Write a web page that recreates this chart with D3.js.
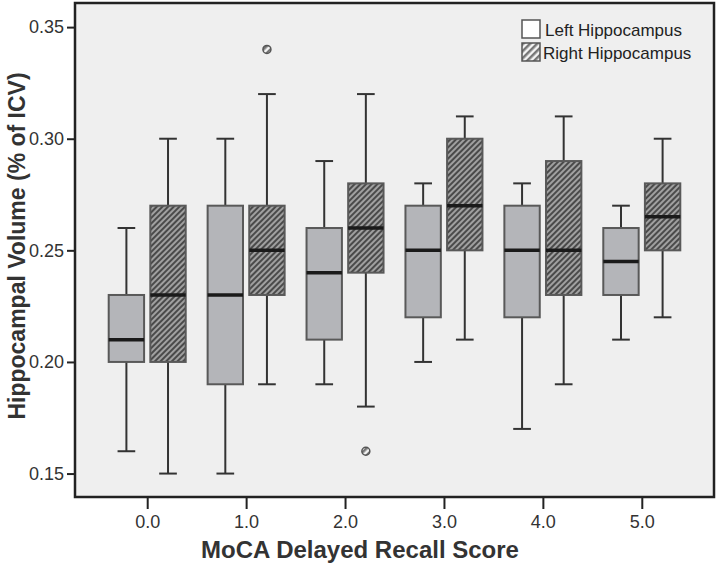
<!DOCTYPE html>
<html>
<head>
<meta charset="utf-8">
<script src="https://cdn.jsdelivr.net/npm/d3@7/dist/d3.min.js"></script>
<style>
  html, body { margin: 0; padding: 0; background: #ffffff; }
  svg { display: block; }
  text { font-family: "Liberation Sans", Arial, Helvetica, sans-serif; }
</style>
</head>
<body>
<svg id="chart" width="717" height="569"></svg>
<script>
// ---- data ----
const categories = ["0.0", "1.0", "2.0", "3.0", "4.0", "5.0"];
const seriesNames = ["Left Hippocampus", "Right Hippocampus"];

const leftMin = [0.16, 0.15, 0.19, 0.20, 0.17, 0.21];
const leftQ1  = [0.20, 0.19, 0.21, 0.22, 0.22, 0.23];
const leftMed = [0.21, 0.23, 0.24, 0.25, 0.25, 0.245];
const leftQ3  = [0.23, 0.27, 0.26, 0.27, 0.27, 0.26];
const leftMax = [0.26, 0.30, 0.29, 0.28, 0.28, 0.27];

const rightMin = [0.15, 0.19, 0.18, 0.21, 0.19, 0.22];
const rightQ1  = [0.20, 0.23, 0.24, 0.25, 0.23, 0.25];
const rightMed = [0.23, 0.25, 0.26, 0.27, 0.25, 0.265];
const rightQ3  = [0.27, 0.27, 0.28, 0.30, 0.29, 0.28];
const rightMax = [0.30, 0.32, 0.32, 0.31, 0.31, 0.30];

const outlierCats   = ["1.0", "2.0"];
const outlierSeries = ["Right Hippocampus", "Right Hippocampus"];
const outlierValues = [0.34, 0.16];

const yTicks = [0.15, 0.20, 0.25, 0.30, 0.35];
const xTitle = "MoCA Delayed Recall Score";
const yTitle = "Hippocampal Volume (% of ICV)";

// ---- build table ----
const boxes = [];
categories.forEach((c, i) => {
  boxes.push({cat: c, series: seriesNames[0], min: leftMin[i], q1: leftQ1[i], med: leftMed[i], q3: leftQ3[i], max: leftMax[i]});
  boxes.push({cat: c, series: seriesNames[1], min: rightMin[i], q1: rightQ1[i], med: rightMed[i], q3: rightQ3[i], max: rightMax[i]});
});
const outliers = outlierValues.map((v, i) => ({cat: outlierCats[i], series: outlierSeries[i], value: v}));

// ---- layout ----
const frame = {left: 75, right: 714, top: 3, bottom: 497};
const svg = d3.select("#chart");

const x = d3.scalePoint().domain(categories).range([frame.left, frame.right]).padding(0.73);
const xs = d3.scaleBand().domain(seriesNames).range([-38.5, 38.5]).paddingInner(0.15).paddingOuter(0);
const y = d3.scaleLinear().domain([0.1395, 0.3608]).range([frame.bottom, frame.top]);

// pattern
const defs = svg.append("defs");
const pat = defs.append("pattern")
  .attr("id", "hatch").attr("patternUnits", "userSpaceOnUse")
  .attr("width", 4).attr("height", 4)
  .attr("patternTransform", "rotate(45)");
pat.append("rect").attr("width", 4).attr("height", 4).attr("fill", "#a0a0a0");
pat.append("rect").attr("width", 2).attr("height", 4).attr("fill", "#4a4a4a");

const patL = defs.append("pattern")
  .attr("id", "hatchLegend").attr("patternUnits", "userSpaceOnUse")
  .attr("width", 5).attr("height", 5)
  .attr("patternTransform", "rotate(45)");
patL.append("rect").attr("width", 5).attr("height", 5).attr("fill", "#f4f4f4");
patL.append("rect").attr("width", 2.5).attr("height", 5).attr("fill", "#777777");

// plot background
svg.append("rect")
  .attr("x", frame.left).attr("y", frame.top)
  .attr("width", frame.right - frame.left).attr("height", frame.bottom - frame.top)
  .attr("fill", "#efefef");

const g = svg.append("g");
const bw = xs.bandwidth();
const cx = d => x(d.cat) + xs(d.series) + bw / 2;

// whiskers
g.selectAll("line.whisker").data(boxes).join("line")
  .attr("class", "whisker")
  .attr("x1", cx).attr("x2", cx)
  .attr("y1", d => y(d.min)).attr("y2", d => y(d.max))
  .attr("stroke", "#333").attr("stroke-width", 2);
// caps
["min", "max"].forEach(k => {
  g.selectAll("line.cap-" + k).data(boxes).join("line")
    .attr("class", "cap-" + k)
    .attr("x1", d => cx(d) - bw / 4).attr("x2", d => cx(d) + bw / 4)
    .attr("y1", d => y(d[k])).attr("y2", d => y(d[k]))
    .attr("stroke", "#333").attr("stroke-width", 2);
});
// boxes
g.selectAll("rect.box").data(boxes).join("rect")
  .attr("class", "box")
  .attr("x", d => x(d.cat) + xs(d.series))
  .attr("width", bw)
  .attr("y", d => y(d.q3))
  .attr("height", d => y(d.q1) - y(d.q3))
  .attr("fill", d => d.series === seriesNames[0] ? "#b4b5b9" : "url(#hatch)")
  .attr("stroke", "#595959").attr("stroke-width", 2);
// medians
g.selectAll("line.med").data(boxes).join("line")
  .attr("class", "med")
  .attr("x1", d => x(d.cat) + xs(d.series)).attr("x2", d => x(d.cat) + xs(d.series) + bw)
  .attr("y1", d => y(d.med)).attr("y2", d => y(d.med))
  .attr("stroke", "#1a1a1a").attr("stroke-width", 3.5);
// outliers
g.selectAll("circle.out").data(outliers).join("circle")
  .attr("class", "out")
  .attr("cx", cx).attr("cy", d => y(d.value)).attr("r", 4)
  .attr("fill", "url(#hatchLegend)")
  .attr("stroke", "#555").attr("stroke-width", 1.5);

// frame
svg.append("rect")
  .attr("x", frame.left).attr("y", frame.top)
  .attr("width", frame.right - frame.left).attr("height", frame.bottom - frame.top)
  .attr("fill", "none").attr("stroke", "#222").attr("stroke-width", 2.5);

// axes
const yAxis = d3.axisLeft(y).tickValues(yTicks).tickFormat(d3.format(".2f")).tickSize(8).tickPadding(3);
const ya = svg.append("g").attr("transform", `translate(${frame.left},0)`).call(yAxis);
ya.select(".domain").remove();
ya.selectAll("line").attr("stroke", "#222").attr("stroke-width", 2);
ya.selectAll("text").attr("font-size", 18).attr("fill", "#333").attr("font-family", "Liberation Sans, Arial, sans-serif");

const xAxis = d3.axisBottom(x).tickSize(12).tickPadding(6);
const xa = svg.append("g").attr("transform", `translate(0,${frame.bottom})`).call(xAxis);
xa.select(".domain").remove();
xa.selectAll("line").attr("stroke", "#222").attr("stroke-width", 2);
xa.selectAll("text").attr("font-size", 18).attr("fill", "#333").attr("font-family", "Liberation Sans, Arial, sans-serif");

// titles
svg.append("text")
  .attr("x", 360).attr("y", 558)
  .attr("text-anchor", "middle").attr("font-weight", "bold").attr("font-size", 24)
  .attr("fill", "#333").text(xTitle);
svg.append("text")
  .attr("transform", `translate(25,246) rotate(-90)`)
  .attr("text-anchor", "middle").attr("font-weight", "bold").attr("font-size", 23)
  .attr("fill", "#333").text(yTitle);

// legend
const leg = svg.append("g").attr("transform", "translate(522,20)");
const legFills = ["#ffffff", "url(#hatchLegend)"];
seriesNames.forEach((s, i) => {
  const row = leg.append("g").attr("transform", `translate(0,${i * 23})`);
  row.append("rect").attr("x", 0).attr("y", 0).attr("width", 18).attr("height", 18)
    .attr("fill", legFills[i]).attr("stroke", "#555").attr("stroke-width", 1.5);
  row.append("text").attr("x", i === 0 ? 23 : 21).attr("y", 16)
    .attr("font-size", 17).attr("fill", "#222").text(s);
});
</script>
</body>
</html>
